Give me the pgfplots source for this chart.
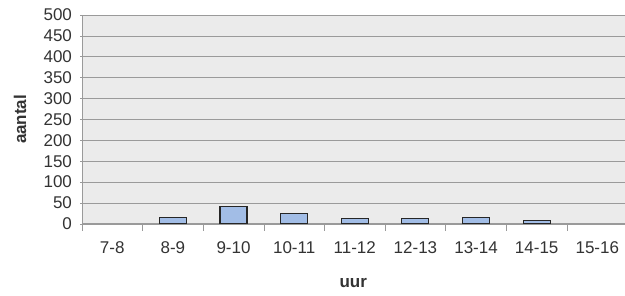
\documentclass[border=0pt]{standalone}
\usepackage{fontspec}
\setmainfont{Liberation Sans}
\usepackage{pgfplots}
\pgfplotsset{compat=1.18}
\definecolor{bgcol}{HTML}{EBEBEB}
\definecolor{barfill}{HTML}{A2BDE6}
\definecolor{gridcol}{HTML}{9A9A9A}
\definecolor{txt}{HTML}{333333}
\begin{document}
\begin{tikzpicture}
\begin{axis}[
  scale only axis,
  width=543pt, height=209pt,
  xmin=-0.5, xmax=8.45,
  ymin=0, ymax=500,
  ytick={0,50,...,500},
  xtick={0,...,8},
  xticklabels={7-8,8-9,9-10,10-11,11-12,12-13,13-14,14-15,15-16},
  minor xtick={-0.5,0.5,...,7.5},
  major x tick style={draw=none},
  minor tick length=7pt,
  major tick length=3pt,
  tick align=outside,
  tick style={gridcol, line width=0.6pt},
  axis lines=left,
  axis line style={-, gridcol, line width=0.8pt},
  ymajorgrids,
  grid style={gridcol, line width=0.7pt},
  axis background/.style={fill=bgcol},
  font=\fontsize{17}{20}\selectfont,
  /pgf/number format/assume math mode=true,
  tick label style={txt},
  yticklabel style={xshift=-5pt},
  xticklabel style={anchor=base, yshift=-27pt},
  every axis y label/.style={at={(axis description cs:-0.114,0.5)}, rotate=90, anchor=center, font=\fontsize{17}{20}\selectfont\bfseries, txt},
  every axis x label/.style={at={(axis description cs:0.5,-0.306)}, anchor=base, font=\fontsize{17}{20}\selectfont\bfseries, txt},
  ylabel={aantal},
  xlabel={uur},
  ybar, bar width=27pt,
]
% 7-8 and 15-16 have value 0 (no bar drawn)
\addplot[fill=barfill, draw=black!85, line width=1.1pt] coordinates {
  (1,16) (2,41) (3,24) (4,12) (5,12) (6,16) (7,9)
};
\end{axis}
\path[use as bounding box] (current axis.south west) ++(-82pt,-72pt) rectangle ++(625pt,296pt);
\end{tikzpicture}
\end{document}
